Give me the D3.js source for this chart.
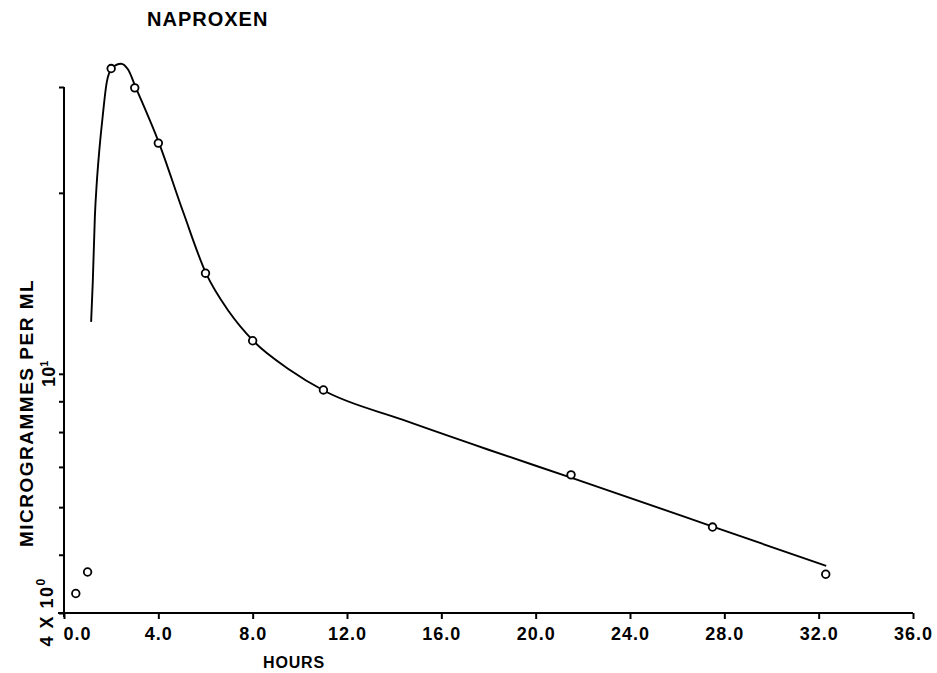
<!DOCTYPE html>
<html>
<head>
<meta charset="utf-8">
<script src="https://cdn.jsdelivr.net/npm/d3@7"></script>
<style>
    body { margin: 0; background: #fff; }
    text { font-family: "Liberation Sans", Arial, sans-serif; font-weight: bold; fill: #000; }
    .axis path, .axis line { stroke: #000; stroke-width: 2; }
    .axis text { font-size: 18px; letter-spacing: 1px; }
    .curve { fill: none; stroke: #000; stroke-width: 1.9; }
    .obs { fill: #fff; stroke: #000; stroke-width: 1.8; }
</style>
</head>
<body>
<script>
(function() {

    //observed plasma levels (hours, micrograms per ml)
    var obsHours = [0.5, 1.0, 2.0, 3.0, 4.0, 6.0, 8.0, 11.0, 21.5, 27.5, 32.3];
    var obsConc = [4.31, 4.68, 32.2, 29.9, 24.2, 14.7, 11.35, 9.40, 6.79, 5.56, 4.64];

    //fitted curve
    var curveHours = [1.15, 1.22, 1.31, 1.39, 1.50, 1.64, 1.81, 2.04, 2.42, 2.71, 3.05, 4.03, 5.05, 6.02, 7.0, 8.02, 9.58, 11.03, 14.38, 17.94, 21.59, 27.57, 32.32];
    var curveConc = [12.2, 14.2, 18.3, 20.8, 23.6, 26.8, 30.5, 32.3, 32.8, 32.1, 29.9, 24.2, 18.6, 14.7, 12.68, 11.35, 10.15, 9.37, 8.38, 7.49, 6.70, 5.56, 4.79];

    //axis ticks
    var xTicks = [0, 4, 8, 12, 16, 20, 24, 28, 32, 36];
    var yTicks = [4, 5, 6, 7, 8, 9, 10, 20, 30];

    window.onload = setChart();

    function setChart(){
        var width = 937,
            height = 673;

        var svg = d3.select("body")
            .append("svg")
            .attr("width", width)
            .attr("height", height);

        var x = d3.scaleLinear()
            .domain([0, 36])
            .range([64, 913]);

        var y = d3.scaleLog()
            .domain([4, 30])
            .range([613, 87]);

        //x axis
        var xAxis = d3.axisBottom(x)
            .tickValues(xTicks)
            .tickSize(6)
            .tickSizeOuter(0)
            .tickPadding(8)
            .tickFormat(d3.format(".1f"));

        var gx = svg.append("g")
            .attr("class", "axis")
            .attr("transform", "translate(0," + y(4) + ")")
            .call(xAxis);
        gx.select(".domain").attr("d", "M" + (x(0) - 6) + ",0H" + x(36));
        //first label sits to the right of the corner
        gx.selectAll(".tick text")
            .filter(function(d){ return d === 0; })
            .attr("text-anchor", "start")
            .attr("x", -1);

        //y axis
        var yAxis = d3.axisLeft(y)
            .tickValues(yTicks)
            .tickSize(5)
            .tickSizeOuter(0)
            .tickFormat("");

        var gy = svg.append("g")
            .attr("class", "axis")
            .attr("transform", "translate(" + x(0) + ",0)")
            .call(yAxis);
        gy.select(".domain").attr("d", "M0," + y(30) + "V" + (y(4) + 4));

        //y tick labels, rotated
        var t10 = svg.append("text")
            .attr("transform", "translate(55," + y(10) + ") rotate(-90)")
            .attr("text-anchor", "middle")
            .style("font-size", "18px");
        t10.append("tspan").text("10");
        t10.append("tspan").attr("dy", -7).style("font-size", "11px").text("1");

        var t4 = svg.append("text")
            .attr("transform", "translate(53," + (y(4) - 1) + ") rotate(-90)")
            .attr("text-anchor", "middle")
            .style("font-size", "18px")
            .style("letter-spacing", "1.5px");
        t4.append("tspan").text("4 X 10");
        t4.append("tspan").attr("dy", -8).style("font-size", "12px").text("0");

        //axis titles
        svg.append("text")
            .attr("transform", "translate(33,413) rotate(-90)")
            .attr("text-anchor", "middle")
            .style("font-size", "19px")
            .style("letter-spacing", "1.5px")
            .text("MICROGRAMMES PER ML");

        svg.append("text")
            .attr("x", 294)
            .attr("y", 668)
            .attr("text-anchor", "middle")
            .style("font-size", "16px")
            .style("letter-spacing", "0.8px")
            .text("HOURS");

        svg.append("text")
            .attr("x", 147)
            .attr("y", 26)
            .style("font-size", "20px")
            .style("letter-spacing", "1px")
            .text("NAPROXEN");

        //fitted curve
        var curveData = curveHours.map(function(h, i){ return [h, curveConc[i]]; });
        var line = d3.line()
            .x(function(d){ return x(d[0]); })
            .y(function(d){ return y(d[1]); })
            .curve(d3.curveMonotoneX);

        svg.append("path")
            .datum(curveData)
            .attr("class", "curve")
            .attr("d", line);

        //observed points
        var obsData = obsHours.map(function(h, i){ return [h, obsConc[i]]; });
        svg.selectAll(".obs")
            .data(obsData)
            .enter()
            .append("circle")
            .attr("class", "obs")
            .attr("cx", function(d){ return x(d[0]); })
            .attr("cy", function(d){ return y(d[1]); })
            .attr("r", 3.8);
    }

})();
</script>
</body>
</html>
